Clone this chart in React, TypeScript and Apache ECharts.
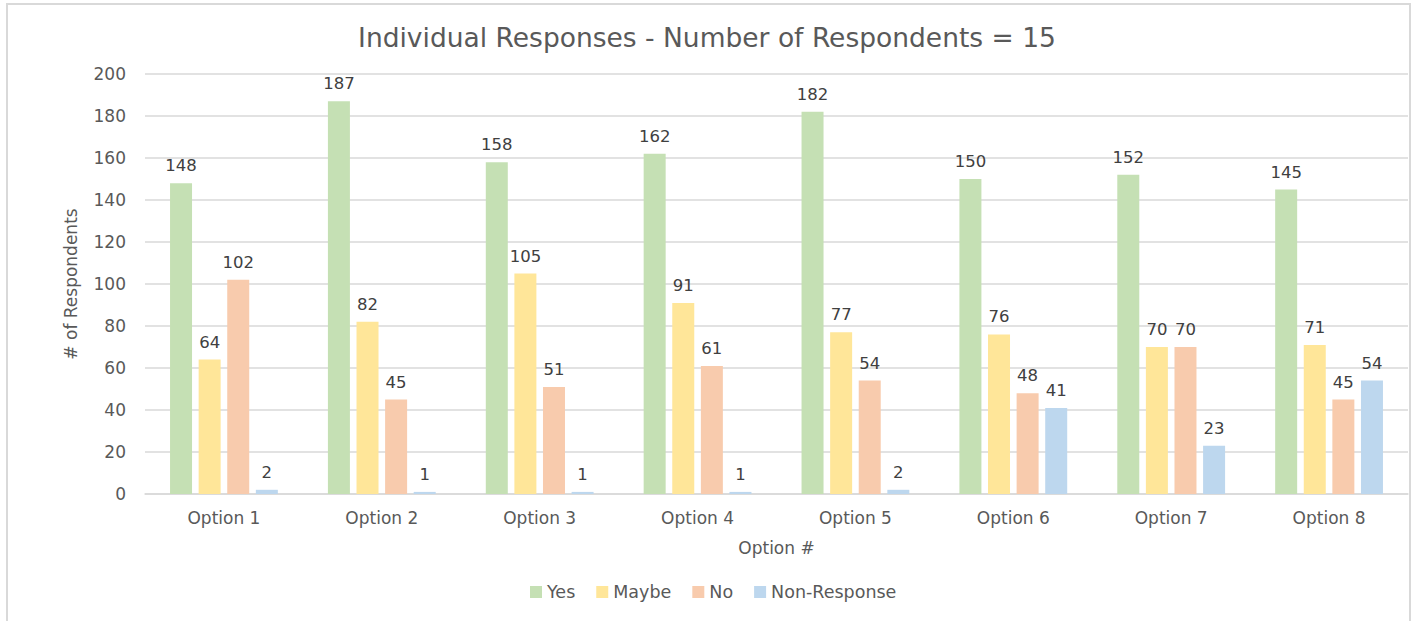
import React, { useEffect, useRef } from "react";
import * as echarts from "echarts";

const categories = ["Option 1", "Option 2", "Option 3", "Option 4", "Option 5", "Option 6", "Option 7", "Option 8"];
const yesValues = [148, 187, 158, 162, 182, 150, 152, 145];
const maybeValues = [64, 82, 105, 91, 77, 76, 70, 71];
const noValues = [102, 45, 51, 61, 54, 48, 70, 45];
const nonResponseValues = [2, 1, 1, 1, 2, 41, 23, 54];
const seriesNames = ["Yes", "Maybe", "No", "Non-Response"];
const seriesColors = ["#C5E0B4", "#FFE699", "#F8CBAD", "#BDD7EE"];

const FONT = "'DejaVu Sans', 'Open Sans', sans-serif";

export default function App() {
  const ref = useRef<HTMLDivElement>(null);
  useEffect(() => {
    if (!ref.current) return;
    const chart = echarts.init(ref.current, null, { renderer: "svg" });
    const data = [yesValues, maybeValues, noValues, nonResponseValues];
    chart.setOption({
      animation: false,
      backgroundColor: "#ffffff",
      textStyle: { fontFamily: FONT },
      graphic: [
        {
          type: "rect",
          shape: { x: 7, y: 4, width: 1403, height: 640 },
          style: { fill: "none", stroke: "#D9D9D9", lineWidth: 2 },
          silent: true,
          z: 100,
        },
      ],
      title: {
        text: "Individual Responses - Number of Respondents = 15",
        left: "center",
        top: 19,
        textStyle: { fontFamily: FONT, fontSize: 26.5, fontWeight: "normal", color: "#595959" },
      },
      legend: {
        bottom: 15,
        left: 525,
        itemWidth: 12,
        itemHeight: 12,
        itemGap: 21,
        icon: "rect",
        textStyle: { fontFamily: FONT, fontSize: 17.5, color: "#595959" },
        data: seriesNames,
      },
      grid: { left: 145, right: 6, top: 74, bottom: 127, containLabel: false },
      xAxis: {
        type: "category",
        data: categories,
        name: "Option #",
        nameLocation: "middle",
        nameGap: 45,
        nameTextStyle: { fontFamily: FONT, fontSize: 17, color: "#595959" },
        axisLine: { lineStyle: { color: "#D9D9D9", width: 1.5 } },
        axisTick: { show: false },
        axisLabel: { fontFamily: FONT, fontSize: 17, color: "#595959", margin: 15 },
      },
      yAxis: {
        type: "value",
        min: 0,
        max: 200,
        interval: 20,
        name: "# of Respondents",
        nameLocation: "middle",
        nameGap: 66,
        nameTextStyle: { fontFamily: FONT, fontSize: 17, color: "#595959" },
        axisLine: { show: false },
        axisTick: { show: false },
        axisLabel: { fontFamily: FONT, fontSize: 17, color: "#595959", margin: 19 },
        splitLine: { lineStyle: { color: "#D9D9D9", width: 1.5 } },
      },
      series: seriesNames.map((name, i) => ({
        name,
        type: "bar",
        data: data[i],
        barWidth: 22,
        barGap: "30%",
        itemStyle: { color: seriesColors[i] },
        label: {
          show: true,
          position: "top",
          distance: 9,
          fontFamily: FONT,
          fontSize: 16.5,
          color: "#404040",
        },
      })),
    });
    return () => chart.dispose();
  }, []);
  return (
    <div
      ref={ref}
      style={{ position: "fixed", left: 0, top: 0, width: 1414, height: 621 }}
    />
  );
}
